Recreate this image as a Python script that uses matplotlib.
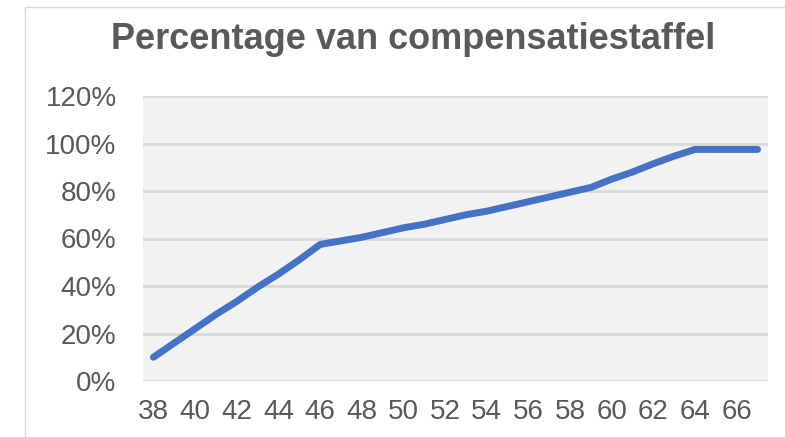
import numpy as np
import matplotlib.pyplot as plt
from matplotlib.patches import Rectangle
from matplotlib.ticker import FuncFormatter

# data
ages = list(range(38, 68))
percent = [10, 16, 22, 28, 33.5, 39.5, 45, 51, 57.5,
           59, 60.5, 62.5, 64.5, 66, 68, 70, 71.5, 73.5, 75.5, 77.5,
           79.5, 81.5, 85, 88, 91.5, 94.7, 97.5, 97.5, 97.5, 97.5]
x_ticks = list(range(38, 67, 2))
y_ticks = [0, 20, 40, 60, 80, 100, 120]

txt = "#595959"
plt.rcParams['font.family'] = ['Liberation Sans', 'DejaVu Sans']

fig = plt.figure(figsize=(7.85, 4.37), dpi=100)
# light frame around the chart area
fig.patches.append(Rectangle((25/785, -0.1), 1.0, 1 - 7/437 + 0.1, transform=fig.transFigure,
                             facecolor="white", edgecolor="#d9d9d9", lw=1, zorder=-1))

ax = fig.add_axes([143/785, 1 - 381/437, (768 - 143)/785, (381 - 96)/437])
ax.set_facecolor("#f2f2f2")
ax.plot(ages, percent, color="#4472c4", lw=5, solid_capstyle="round", solid_joinstyle="round", zorder=3)

ax.set_xlim(37.5, 67.5)
ax.set_ylim(0, 120)
ax.set_xticks(x_ticks)
ax.set_yticks(y_ticks)
ax.yaxis.set_major_formatter(FuncFormatter(lambda v, p: f"{v:.0f}%"))
ax.grid(axis="y", color="#d9d9d9", lw=2)
ax.set_axisbelow(True)
for s in ax.spines.values():
    s.set_visible(False)
ax.tick_params(length=0, labelsize=20, colors=txt)
ax.tick_params(axis="x", pad=13)
ax.tick_params(axis="y", pad=19)

fig.text(0.526, 1 - 49/437, "Percentage van compensatiestaffel", ha="center", va="baseline",
         fontsize=26, fontweight="bold", color=txt)

fig.savefig("out.png", dpi=100)
